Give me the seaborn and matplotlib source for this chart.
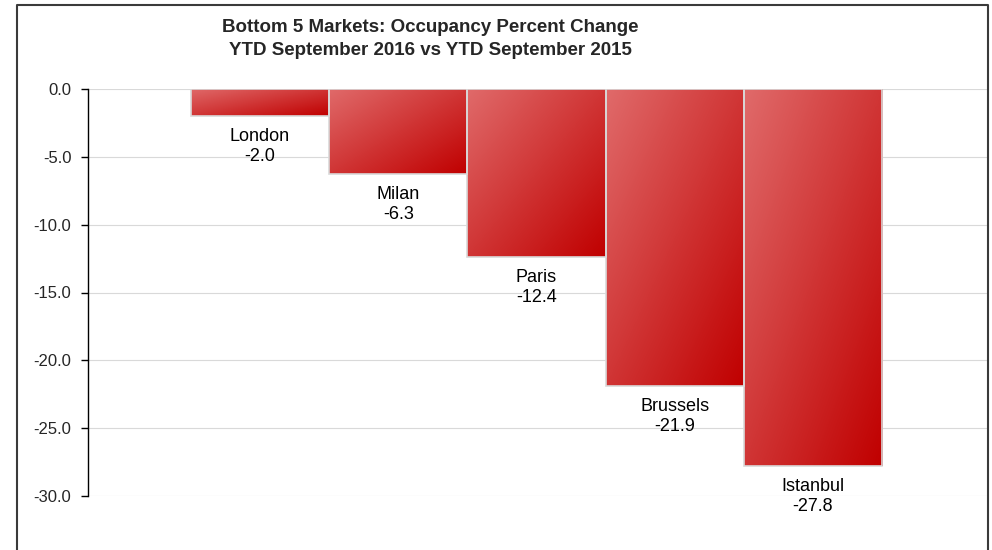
import numpy as np
import pandas as pd
import matplotlib
matplotlib.use("Agg")
import matplotlib.pyplot as plt
from matplotlib.colors import LinearSegmentedColormap
from matplotlib.lines import Line2D
import seaborn as sns

# data
markets = ["London", "Milan", "Paris", "Brussels", "Istanbul"]
occ_change = [-2.0, -6.3, -12.4, -21.9, -27.8]
yticks = [0, -5, -10, -15, -20, -25, -30]

title_1 = "Bottom 5 Markets: Occupancy Percent Change"
title_2 = "YTD September 2016 vs YTD September 2015"

df = pd.DataFrame({"market": markets, "change": occ_change})

sns.set_style("white")
plt.rcParams["font.family"] = ["Liberation Sans", "DejaVu Sans"]

fig = plt.figure(figsize=(9.92, 5.50), dpi=100)
ax = fig.add_axes([88 / 992, 1 - 496 / 550, (987 - 88) / 992, (496 - 89) / 550])

sns.barplot(data=df, x="market", y="change", color="#d04040", width=1.0,
            edgecolor="#d9d9d9", linewidth=1.2, ax=ax, zorder=3)

# gradient fill: light top-left -> dark red bottom-right
cmap = LinearSegmentedColormap.from_list("redgrad", ["#e06a6a", "#c00000"])
n = 64
u = np.linspace(0, 1, n)
uu, vv = np.meshgrid(u, u)
grad = (uu + vv) / 2  # rows go top -> bottom with origin='upper'
for p in ax.patches:
    x0, y0 = p.get_x(), p.get_y()
    w, h = p.get_width(), p.get_height()
    top, bot = max(y0, y0 + h), min(y0, y0 + h)
    im = ax.imshow(grad, cmap=cmap, aspect="auto", origin="upper",
                   extent=(x0, x0 + w, bot, top), zorder=3.5, interpolation="bilinear")
    im.set_clip_path(p)
    p.set_facecolor("none")
    p.set_zorder(4)

# labels under each bar
for i, (name, val) in enumerate(zip(markets, occ_change)):
    ax.annotate(f"{name}\n{val:.1f}", xy=(i, val), xytext=(0, -8.5),
                textcoords="offset points", ha="center", va="top",
                fontsize=13, linespacing=1.22, color="black", zorder=5)

ax.set_xlim(-1.244, 5.259)
ax.set_ylim(-30, 0)
ax.set_yticks(yticks)
ax.set_yticklabels([f"{t:.1f}" for t in yticks], fontsize=12)
ax.set_xticks([])
ax.set_xlabel("")
ax.set_ylabel("")
ax.yaxis.grid(True, color="#d9d9d9", linewidth=0.8, zorder=0)
ax.set_axisbelow(True)
for s in ["top", "right", "bottom"]:
    ax.spines[s].set_visible(False)
ax.spines["left"].set_color("black")
ax.spines["left"].set_linewidth(1.0)
ax.tick_params(axis="y", left=True, length=5, width=1, color="black", pad=7)

fig.text(430.5 / 992, 1 - 32 / 550, title_1, ha="center", va="baseline",
         fontsize=13.5, fontweight="bold")
fig.text(430.5 / 992, 1 - 55 / 550, title_2, ha="center", va="baseline",
         fontsize=13.5, fontweight="bold")

# outer frame (open at the bottom)
fx0, fx1, fy = 17 / 992, 988 / 992, 1 - 5 / 550
fig.add_artist(Line2D([fx0, fx0, fx1, fx1], [0, fy, fy, 0], transform=fig.transFigure,
                      color="#3a3a3a", linewidth=1.5))

fig.savefig("out.png", dpi=100)
